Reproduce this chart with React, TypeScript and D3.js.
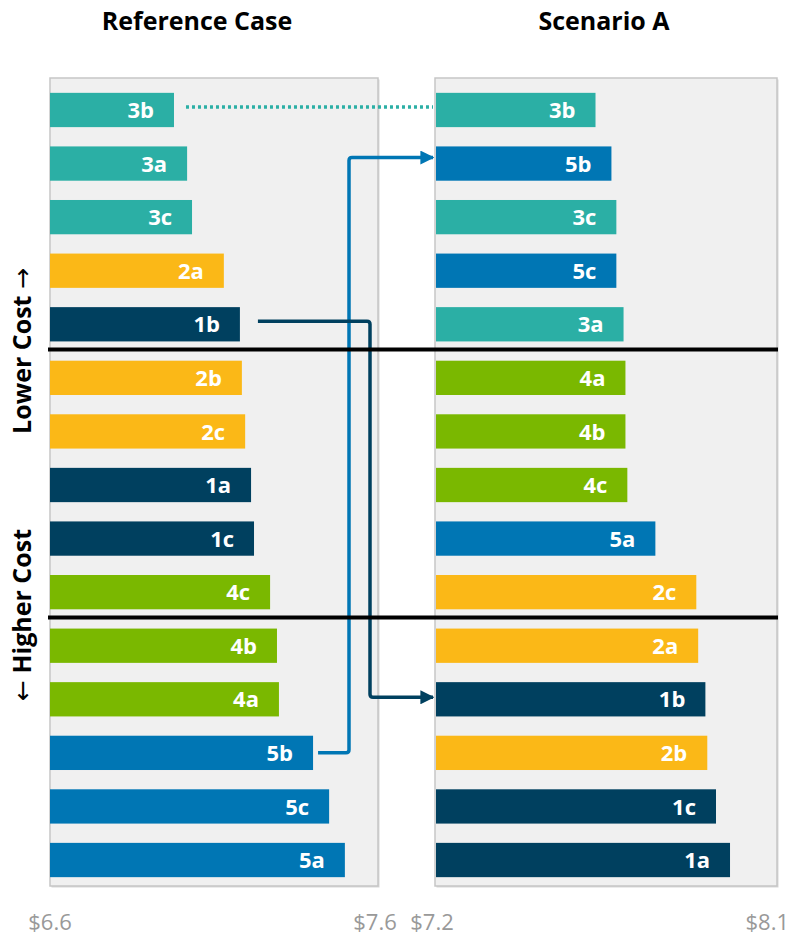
import React from "react";
import * as d3 from "d3";

const refIds = ["3b","3a","3c","2a","1b","2b","2c","1a","1c","4c","4b","4a","5b","5c","5a"];
const refValues = [6.978,7.018,7.033,7.130,7.179,7.185,7.195,7.213,7.222,7.271,7.292,7.298,7.402,7.451,7.499];
const scnIds = ["3b","5b","3c","5c","3a","4a","4b","4c","5a","2c","2a","1b","2b","1c","1a"];
const scnValues = [7.621,7.663,7.676,7.676,7.695,7.700,7.700,7.705,7.779,7.887,7.892,7.911,7.916,7.939,7.976];
const refDomain = [6.6, 7.6];
const scnDomain = [7.2, 8.1];
const refTicks = ["$6.6", "$7.6"];
const scnTicks = ["$7.2", "$8.1"];
const titles = ["Reference Case", "Scenario A"];
const dividerAfter = [4, 9];

const groupColor: Record<string, string> = {
  "1": "#00405F",
  "2": "#FBB817",
  "3": "#2BAFA5",
  "4": "#7AB800",
  "5": "#0076B4",
};

const FONT = "'Open Sans', 'Noto Sans', sans-serif";
const ARROWFONT = "'DejaVu Sans', sans-serif";

export default function App() {
  const W = 790, H = 937;
  const top = 78, bottom = 886;
  const rows = d3.range(15).map(String);
  const y = d3.scaleBand<string>().domain(rows).range([83.2, 886.8]).paddingInner(0.36).paddingOuter(0.18);
  const xL = d3.scaleLinear().domain(refDomain).range([50, 378]);
  const xR = d3.scaleLinear().domain(scnDomain).range([436, 777]);
  const bh = y.bandwidth();
  const cy = (i: number) => (y(String(i)) as number) + bh / 2;

  const panel = (x0: number, x1: number) => (
    <g>
      <rect x={x0 + 1.5} y={top + 1.5} width={x1 - x0} height={bottom - top} fill="#d8d8d8" />
      <rect x={x0} y={top} width={x1 - x0} height={bottom - top} fill="#F0F0F0" stroke="#C6C6C6" strokeWidth={1.5} />
    </g>
  );

  const bars = (ids: string[], vals: number[], x: d3.ScaleLinear<number, number>, d0: number) =>
    ids.map((id, i) => {
      const yy = y(String(i)) as number;
      const x0 = x(d0);
      const x1 = x(vals[i]);
      return (
        <g key={id}>
          <rect x={x0} y={yy} width={x1 - x0} height={bh} fill={groupColor[id[0]]} />
          <text x={x1 - 20} y={yy + bh / 2} dy="0.37em" textAnchor="end" fill="#fff" fontSize={22} fontWeight={700} fontFamily={FONT}>
            {id}
          </text>
        </g>
      );
    });

  const i3bL = refIds.indexOf("3b"), i3bR = scnIds.indexOf("3b");
  const i5bL = refIds.indexOf("5b"), i5bR = scnIds.indexOf("5b");
  const i1bL = refIds.indexOf("1b"), i1bR = scnIds.indexOf("1b");
  const arrowEnd = xR(scnDomain[0]) - 3;

  const elbow = (sx: number, sy: number, mx: number, ey: number, ex: number, r = 3) => {
    const dir = ey > sy ? 1 : -1;
    return `M${sx},${sy} H${mx - r} Q${mx},${sy} ${mx},${sy + dir * r} V${ey - dir * r} Q${mx},${ey} ${mx + r},${ey} H${ex}`;
  };

  const divY = dividerAfter.map((i) => ((y(String(i)) as number) + bh + (y(String(i + 1)) as number)) / 2 - 1.5);

  const tickStyle = { fontSize: 22, fill: "#999", fontFamily: FONT } as const;

  return (
    <svg width={W} height={H} style={{ position: "absolute", left: 0, top: 0 }}>
      <defs>
        <marker id="ah1" viewBox="0 0 10 10" refX={9} refY={5} markerWidth={4} markerHeight={4} orient="auto" markerUnits="strokeWidth">
          <path d="M0,0 L10,5 L0,10 z" fill="#0076B4" />
        </marker>
        <marker id="ah2" viewBox="0 0 10 10" refX={9} refY={5} markerWidth={4} markerHeight={4} orient="auto" markerUnits="strokeWidth">
          <path d="M0,0 L10,5 L0,10 z" fill="#00405F" />
        </marker>
      </defs>
      <rect width={W} height={H} fill="#fff" />
      {panel(50, 378)}
      {panel(435, 777)}
      {bars(refIds, refValues, xL, refDomain[0])}
      {bars(scnIds, scnValues, xR, scnDomain[0])}

      <line x1={xL(refValues[i3bL]) + 12} x2={arrowEnd} y1={cy(i3bL) - 3} y2={cy(i3bR) - 3} stroke="#2BAFA5" strokeWidth={3.5} strokeDasharray="3,3" />
      <path d={elbow(xL(refValues[i5bL]) + 5, cy(i5bL), 349, cy(i5bR) - 6, arrowEnd)} fill="none" stroke="#0076B4" strokeWidth={3.5} markerEnd="url(#ah1)" />
      <path d={elbow(xL(refValues[i1bL]) + 18, cy(i1bL) - 3, 370, cy(i1bR) - 2, arrowEnd)} fill="none" stroke="#00405F" strokeWidth={3.5} markerEnd="url(#ah2)" />

      {divY.map((d, k) => (
        <line key={k} x1={48} x2={778} y1={d} y2={d} stroke="#000" strokeWidth={4} />
      ))}

      <text x={197} y={30} textAnchor="middle" fontSize={25} fontWeight={700} fontFamily={FONT} fill="#000">{titles[0]}</text>
      <text x={604} y={30} textAnchor="middle" fontSize={25} fontWeight={700} fontFamily={FONT} fill="#000">{titles[1]}</text>

      <text transform={`translate(31,${351}) rotate(-90)`} textAnchor="middle" fontSize={25} fontWeight={700} fontFamily={FONT} fill="#000">
        Lower Cost <tspan fontFamily={ARROWFONT} fontWeight={400}>→</tspan>
      </text>
      <text transform={`translate(31,${615}) rotate(-90)`} textAnchor="middle" fontSize={25} fontWeight={700} fontFamily={FONT} fill="#000">
        <tspan fontFamily={ARROWFONT} fontWeight={400}>←</tspan> Higher Cost
      </text>

      <text x={xL(refDomain[0])} y={930} textAnchor="middle" {...tickStyle}>{refTicks[0]}</text>
      <text x={xL(refDomain[1]) - 3} y={930} textAnchor="middle" {...tickStyle}>{refTicks[1]}</text>
      <text x={xR(scnDomain[0]) - 4} y={930} textAnchor="middle" {...tickStyle}>{scnTicks[0]}</text>
      <text x={789} y={930} textAnchor="end" {...tickStyle}>{scnTicks[1]}</text>
    </svg>
  );
}
